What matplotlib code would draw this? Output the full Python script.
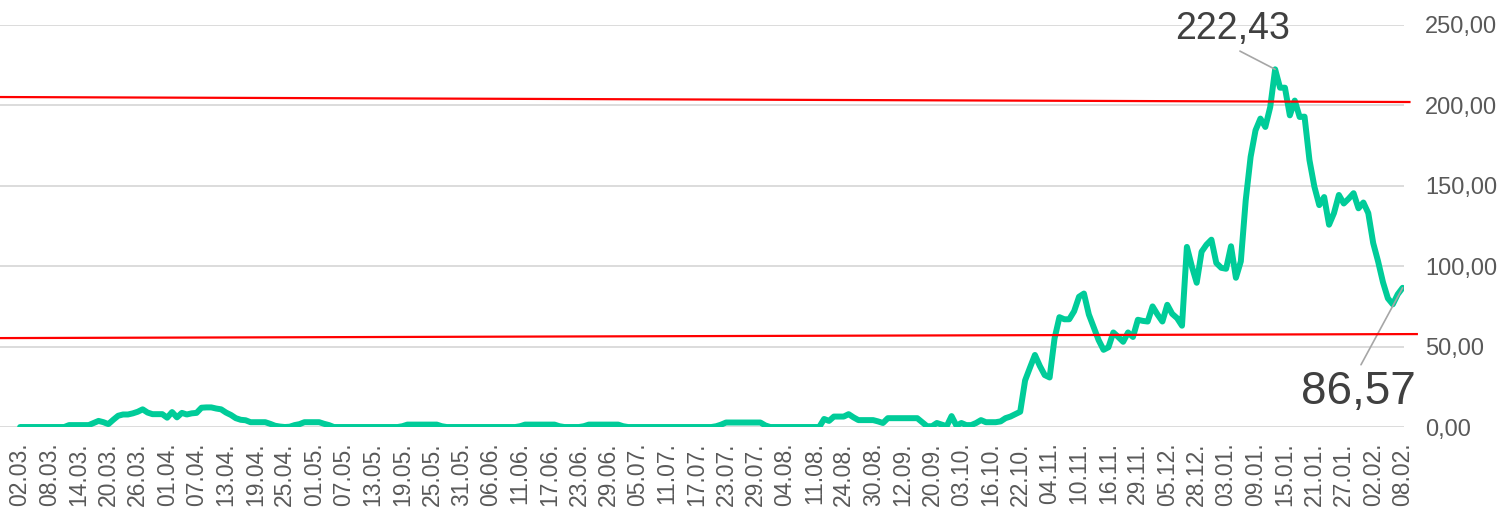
'''
Price chart with peak / last value callouts and two red level lines.
'''
import matplotlib
matplotlib.use("Agg")
import matplotlib.pyplot as plt

# tick labels, one every 6 data points
date_labels = ["02.03.", "08.03.", "14.03.", "20.03.", "26.03.", "01.04.", "07.04.", "13.04.",
               "19.04.", "25.04.", "01.05.", "07.05.", "13.05.", "19.05.", "25.05.", "31.05.",
               "06.06.", "11.06.", "17.06.", "23.06.", "29.06.", "05.07.", "11.07.", "17.07.",
               "23.07.", "29.07.", "04.08.", "11.08.", "24.08.", "30.08.", "12.09.", "20.09.",
               "03.10.", "16.10.", "22.10.", "04.11.", "10.11.", "16.11.", "29.11.", "05.12.",
               "28.12.", "03.01.", "09.01.", "15.01.", "21.01.", "27.01.", "02.02.", "08.02."]
label_step = 6

# daily values
values = [
    0, 0, 0, 0, 0, 0, 0, 0, 0, 0,                          # 0
    1.2, 1.2, 1.2, 1.2, 1.2, 2.5, 3.8, 3, 1.8, 4.5,        # 10
    7, 7.8, 7.8, 8.5, 9.5, 11, 9, 8, 8, 8,                 # 20
    5.8, 9.3, 6, 8.8, 7.8, 8.5, 8.8, 12, 12.2, 12.2,       # 30
    11.5, 11, 9, 7.5, 5.5, 4.5, 4.2, 3, 3, 3,              # 40
    3, 2, 0.8, 0.3, 0, 0.2, 1.2, 1.8, 3, 3,                # 50
    3, 3, 2, 1.2, 0, 0, 0, 0, 0, 0,                        # 60
    0, 0, 0, 0, 0, 0, 0, 0, 0.5, 1.5,                      # 70
    1.5, 1.5, 1.5, 1.5, 1.5, 1.5, 0.5, 0, 0, 0,            # 80
    0, 0, 0, 0, 0, 0, 0, 0, 0, 0,                          # 90
    0, 0, 0.5, 1.5, 1.5, 1.5, 1.5, 1.5, 1.5, 1.5,          # 100
    0.5, 0, 0, 0, 0, 0.5, 1.5, 1.5, 1.5, 1.5,              # 110
    1.5, 1.5, 1.5, 0.5, 0, 0, 0, 0, 0, 0,                  # 120
    0, 0, 0, 0, 0, 0, 0, 0, 0, 0,                          # 130
    0, 0, 0.5, 1.5, 2.8, 2.8, 2.8, 2.8, 2.8, 2.8,          # 140
    2.8, 2.8, 1, 0, 0, 0, 0, 0, 0, 0,                      # 150
    0, 0, 0, 0, 5, 3.8, 6.5, 6.5, 6.5, 8,                  # 160
    6, 4.3, 4.3, 4.3, 4.3, 3.5, 2.5, 5.5, 5.5, 5.5,        # 170
    5.5, 5.5, 5.5, 5.5, 3, 0.5, 0.5, 2.5, 1.5, 0.5,        # 180
    6.8, 0.8, 2.5, 1.2, 1.2, 2.5, 4.3, 3, 3, 3,            # 190
    3.5, 5.5, 6.5, 8, 9.5, 29, 37, 44.8, 38, 32.3,         # 200
    30.8, 55, 68.3, 67, 67, 72, 81, 83, 70, 62,            # 210
    54, 48, 49.6, 58.8, 56, 53, 58.8, 56, 66.7, 66,        # 220
    65.6, 75, 70, 65.6, 76, 70.4, 67.7, 63, 112, 100,      # 230
    89.7, 109, 113.4, 116.5, 102, 99, 98.4, 112.4, 92.8, 103,      # 240
    141, 168, 184.5, 191.8, 186.6, 199, 222.43, 211, 211, 193.8,   # 250
    203, 192.8, 193, 166, 149.5, 138, 143, 125.8, 133, 144.3,      # 260
    139, 142, 145.4, 136, 139.6, 133, 114.4, 103, 90, 80,          # 270
    76.3, 82.5, 86.57,                                             # 280
]

# red level lines: (start index, end index) and (start value, end value)
upper_x = [-4.1, 283.4]
upper_y = [205.2, 202.1]
lower_x = [-4.1, 284.9]
lower_y = [55.3, 57.8]

y_ticks = [0, 50, 100, 150, 200, 250]

GREEN = "#00CC99"
GREY_TEXT = "#595959"


def fmt(v):
    return ("%.2f" % v).replace(".", ",")


def main():
    plt.rcParams['font.family'] = ['Liberation Sans', 'DejaVu Sans']

    fig = plt.figure(figsize=(15.07, 5.13), dpi=100)
    ax = fig.add_axes([0.0, 0.1676, 0.9317, 0.7837])

    x = list(range(len(values)))
    ax.plot(x, values, color=GREEN, lw=4.3, solid_joinstyle="round",
            solid_capstyle="round", zorder=3)

    # red levels drawn over the series, running a bit past the plot area
    ax.plot(upper_x, upper_y, color="#FF0000", lw=1.6, zorder=4, clip_on=False)
    ax.plot(lower_x, lower_y, color="#FF0000", lw=1.6, zorder=4, clip_on=False)

    ax.set_xlim(-4.1, 282.3)
    ax.set_ylim(0, 250)

    # axes styling
    for s in ax.spines.values():
        s.set_visible(False)
    ax.set_yticks(y_ticks)
    ax.set_yticklabels([fmt(v) for v in y_ticks])
    ax.yaxis.tick_right()
    ax.grid(axis="y", color="#D9D9D9", lw=1.3, zorder=0)
    ax.tick_params(axis="y", length=0, pad=15, labelsize=17, labelcolor=GREY_TEXT)

    ticks = list(range(0, len(values), label_step))
    ax.set_xticks(ticks)
    ax.set_xticklabels(date_labels[:len(ticks)], rotation=90, ha="center", va="top")
    ax.tick_params(axis="x", length=0, pad=11, labelsize=16.5, labelcolor=GREY_TEXT)

    # callouts for peak and last value
    peak_i = values.index(max(values))
    last_i = len(values) - 1
    ax.annotate(fmt(values[peak_i]), xy=(peak_i, values[peak_i]), xytext=(-31, 29),
                textcoords="offset points", ha="center", va="center",
                fontsize=27, color="#404040",
                arrowprops=dict(arrowstyle="-", color="#A6A6A6", lw=1.2,
                                relpos=(0.5, 0), shrinkA=2, shrinkB=0))
    ax.annotate(fmt(values[last_i]), xy=(last_i, values[last_i]), xytext=(-32, -75),
                textcoords="offset points", ha="center", va="center",
                fontsize=33, color="#404040",
                arrowprops=dict(arrowstyle="-", color="#A6A6A6", lw=1.2,
                                relpos=(0.5, 1), shrinkA=2, shrinkB=0))

    fig.savefig("out.png", dpi=100)


if __name__ == '__main__':
    main()
